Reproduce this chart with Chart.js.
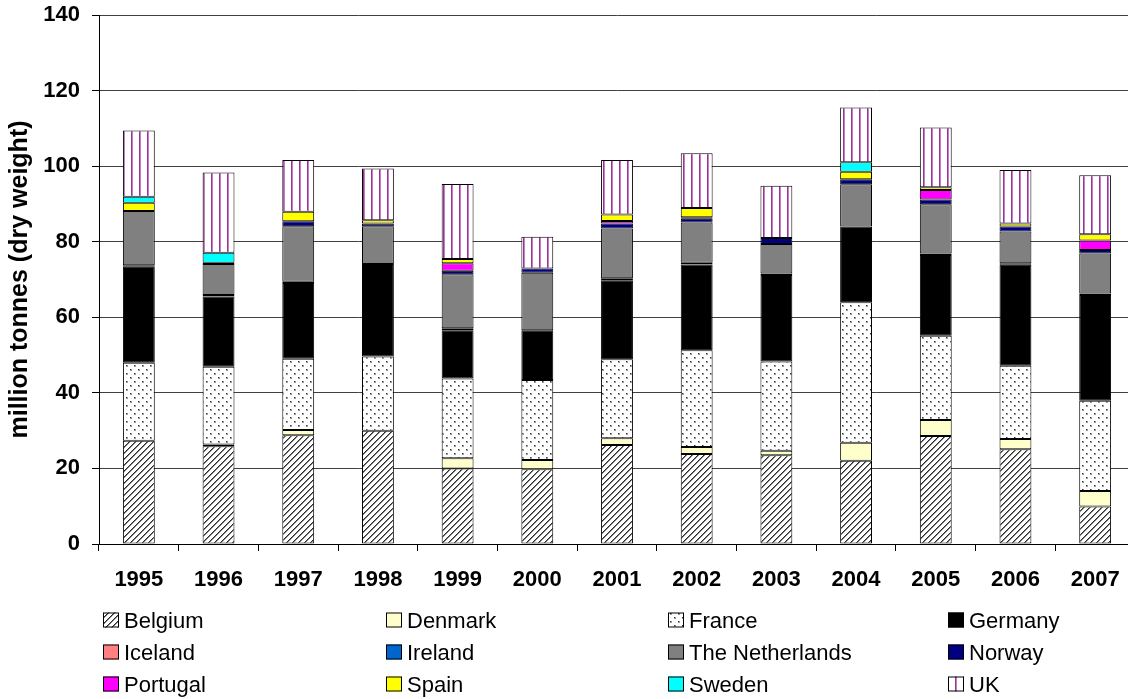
<!DOCTYPE html>
<html>
<head>
<meta charset="utf-8">
<script src="https://cdn.jsdelivr.net/npm/chart.js@4"></script>
<style>
html, body { margin: 0; padding: 0; overflow: hidden; background: #fff; }
#chart { display: block; }
</style>
</head>
<body>
<canvas id="chart" width="1136" height="699" style="width:1136px;height:699px"></canvas>
<script>
"use strict"
// sludge production per country, million tonnes dry weight
const years = ["1995", "1996", "1997", "1998", "1999", "2000", "2001", "2002", "2003", "2004", "2005", "2006", "2007"];

const belgium     = [27.3, 25.9, 28.8, 30.0, 20.0, 19.8, 26.2, 23.8, 23.5, 22.0, 28.6, 25.1, 9.9];
const denmark     = [0, 0.4, 1.4, 0, 2.7, 2.4, 1.8, 1.9, 1.2, 4.8, 4.2, 2.7, 4.1];
const france      = [20.7, 20.6, 18.8, 19.6, 21.1, 21.2, 20.9, 25.6, 23.6, 37.2, 22.3, 19.4, 23.9];
const germany     = [25.5, 18.6, 20.1, 24.5, 12.8, 13.2, 20.9, 22.7, 22.9, 20.0, 21.4, 26.7, 28.0];
const iceland     = [0, 0, 0, 0, 0, 0, 0, 0, 0, 0, 0, 0, 0];
const ireland     = [0.3, 0.4, 0.3, 0, 0.5, 0, 0.5, 0.4, 0.4, 0, 0.4, 0.4, 0.4];
const netherlands = [14.3, 8.2, 14.7, 10.0, 14.3, 15.2, 13.2, 10.7, 7.8, 11.2, 13.0, 8.4, 10.6];
const norway      = [0, 0.3, 1.3, 0.7, 0.9, 1.1, 1.3, 1.0, 1.6, 1.3, 1.3, 1.3, 0.9];
const portugal    = [0, 0, 0, 0, 2.0, 0, 0.7, 0.4, 0, 0, 2.5, 0, 2.5];
const spain       = [2.2, 0, 2.5, 0.9, 1.1, 0, 1.7, 2.4, 0, 2.0, 0.7, 0.8, 1.7];
const sweden      = [1.6, 2.7, 0, 0, 0, 0, 0, 0, 0, 2.5, 0, 0, 0];
const uk          = [17.5, 21.2, 13.7, 13.7, 19.9, 8.4, 14.4, 14.5, 13.8, 14.5, 15.8, 14.2, 15.6];

const yTicks = [0, 20, 40, 60, 80, 100, 120, 140];

const canvas = document.getElementById("chart");
const ctx = canvas.getContext("2d");

Chart.defaults.font.family = "'Liberation Sans', Arial, sans-serif";
Chart.defaults.color = "#000";

// small repeating tiles for the patterned fills
function makePattern(w, h, paint) {
    const tile = document.createElement("canvas");
    tile.width = w;
    tile.height = h;
    const g = tile.getContext("2d");
    g.fillStyle = "#fff";
    g.fillRect(0, 0, w, h);
    paint(g);
    return ctx.createPattern(tile, "repeat");
}

// "/" hatching
const hatch = makePattern(6, 6, function (g) {
    for (let x = 0; x < 6; x++) {
        for (let y = 0; y < 6; y++) {
            const k = (x + y) % 6;
            if (k === 0) { g.fillStyle = "#2a2a2a"; g.fillRect(x, y, 1, 1); }
            if (k === 1) { g.fillStyle = "#808080"; g.fillRect(x, y, 1, 1); }
        }
    }
});

// staggered dots
const dots = makePattern(8, 8, function (g) {
    g.fillStyle = "#9a9a9a";
    g.fillRect(2, 1, 2, 2);
    g.fillRect(6, 5, 2, 2);
    g.fillStyle = "#333";
    g.fillRect(2, 1, 1, 1);
    g.fillRect(6, 5, 1, 1);
});

// purple vertical stripes
const stripes = makePattern(8, 1, function (g) {
    g.fillStyle = "#993399";
    g.fillRect(3, 0, 1, 1);
    g.fillStyle = "#c27fc8";
    g.fillRect(4, 0, 1, 1);
});

function series(label, data, fill) {
    return {
        label: label,
        data: data,
        backgroundColor: fill,
        borderColor: "#000",
        borderWidth: 1,
        borderSkipped: false,
        barPercentage: 0.4,
        categoryPercentage: 1.0
    };
}

const datasets = [
    series("Belgium", belgium, hatch),
    series("Denmark", denmark, "#ffffcc"),
    series("France", france, dots),
    series("Germany", germany, "#000000"),
    series("Iceland", iceland, "#ff8080"),
    series("Ireland", ireland, "#0066cc"),
    series("The Netherlands", netherlands, "#808080"),
    series("Norway", norway, "#000080"),
    series("Portugal", portugal, "#ff00ff"),
    series("Spain", spain, "#ffff00"),
    series("Sweden", sweden, "#00ffff"),
    series("UK", uk, stripes)
];

// legend as a fixed 4 column grid under the axis
const legendGrid = {
    id: "legendGrid",
    afterDraw(chart) {
        const c = chart.ctx;
        const cols = [103, 386, 668, 948];
        const rows = [627.5, 659.5, 691.5];
        c.save();
        c.font = "22px 'Liberation Sans', Arial, sans-serif";
        c.textBaseline = "alphabetic";
        chart.data.datasets.forEach(function (ds, i) {
            const x = cols[i % 4];
            const y = rows[Math.floor(i / 4)];
            c.fillStyle = ds.backgroundColor;
            c.fillRect(x, y - 15, 16, 15);
            c.strokeStyle = "#000";
            c.lineWidth = 1;
            c.strokeRect(x + 0.5, y - 14.5, 15, 14);
            c.fillStyle = "#000";
            c.fillText(ds.label, x + 21, y);
        });
        c.restore();
    }
};

const config = {
    type: "bar",
    data: { labels: years, datasets: datasets },
    options: {
        responsive: false,
        animation: false,
        devicePixelRatio: 1,
        layout: { padding: { top: 15, right: 1, left: 0, bottom: 0 } },
        plugins: {
            legend: { display: false },
            tooltip: { enabled: false }
        },
        scales: {
            x: {
                stacked: true,
                grid: { offset: true, drawOnChartArea: false, tickLength: 7, tickColor: "#000" },
                border: { color: "#000", width: 1 },
                ticks: { font: { size: 22, weight: "bold" }, color: "#000", padding: 16 },
                afterFit: function (scale) { scale.height = 155; }
            },
            y: {
                stacked: true,
                min: 0,
                max: 140,
                afterBuildTicks: function (scale) {
                    scale.ticks = yTicks.map(function (v) { return { value: v }; });
                },
                ticks: { font: { size: 22, weight: "bold" }, color: "#000", padding: 12 },
                grid: { color: "#404040", tickColor: "#000", tickLength: 7 },
                border: { color: "#000", width: 1 },
                title: {
                    display: true,
                    text: "million tonnes (dry weight)",
                    font: { size: 25, weight: "bold" },
                    color: "#000",
                    padding: { top: 5, bottom: 0 }
                },
                afterFit: function (scale) {
                    scale.width = 99;
                    scale.paddingTop = 0;
                    scale.paddingBottom = 0;
                }
            }
        }
    },
    plugins: [legendGrid]
};

const sludgeChart = new Chart(ctx, config);
</script>
</body>
</html>
